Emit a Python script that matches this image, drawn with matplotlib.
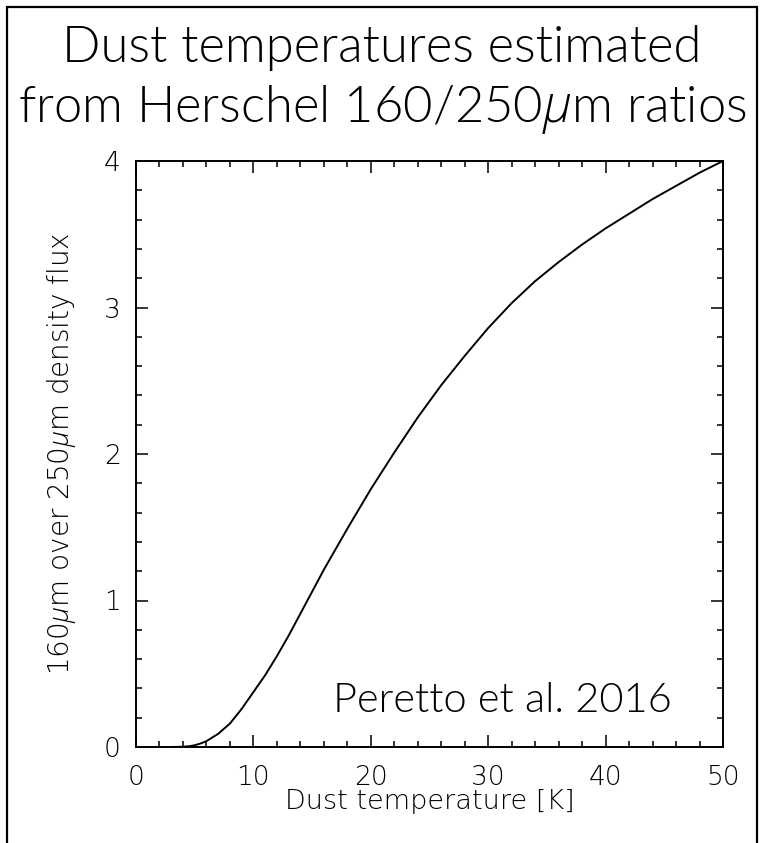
import matplotlib
matplotlib.use("Agg")
import matplotlib.pyplot as plt
from matplotlib.patches import Rectangle
from matplotlib.ticker import MultipleLocator

plt.rcParams["mathtext.fontset"] = "custom"
plt.rcParams["mathtext.it"] = "Open Sans:style=italic:weight=light"
plt.rcParams["mathtext.rm"] = "Open Sans:weight=light"

# values
temp = [2, 3, 4, 4.5, 5, 5.5, 6, 7, 8, 9, 10, 11, 12, 13, 14, 15, 16, 18, 20,
        22, 24, 26, 28, 30, 32, 34, 36, 38, 40, 42, 44, 46, 48, 50]
ratio = [0.0, 0.0, 0.002, 0.005, 0.012, 0.024, 0.04, 0.09, 0.16, 0.26, 0.375,
         0.49, 0.62, 0.76, 0.91, 1.06, 1.21, 1.49, 1.76, 2.01, 2.25, 2.47,
         2.67, 2.86, 3.03, 3.18, 3.31, 3.43, 3.54, 3.64, 3.74, 3.83, 3.92, 4.0]

title_lines = ["Dust temperatures estimated", r"from Herschel 160/250$\mu$m ratios"]
credit = "Peretto et al. 2016"
xlab = "Dust temperature [K]"
ylab = r"160$\mu$m over 250$\mu$m density flux"

W, H = 764, 843
fig = plt.figure(figsize=(W / 100, H / 100), dpi=100)

# frame round the picture (no bottom edge)
fig.patches.append(Rectangle((7 / W, -0.05), 750 / W, 1.05 - 7 / H,
                             transform=fig.transFigure, fill=False,
                             edgecolor="black", linewidth=1.6))

ax = fig.add_axes([136 / W, 1 - 747 / H, 587 / W, 586 / H])
ax.plot(temp, ratio, color="black", linewidth=1.4)
ax.set_xlim(0, 50)
ax.set_ylim(0, 4)
ax.xaxis.set_major_locator(MultipleLocator(10))
ax.xaxis.set_minor_locator(MultipleLocator(2))
ax.yaxis.set_major_locator(MultipleLocator(1))
ax.yaxis.set_minor_locator(MultipleLocator(0.2))
ax.tick_params(which="both", direction="in", top=True, right=True, width=1.1)
ax.tick_params(which="major", length=8.5)
ax.tick_params(which="minor", length=4.3)
ax.tick_params(axis="x", pad=13, labelsize=19)
ax.tick_params(axis="y", pad=11, labelsize=19)
for lbl in ax.get_xticklabels() + ax.get_yticklabels():
    lbl.set_fontweight("light")
    lbl.set_color("black")
for s in ax.spines.values():
    s.set_linewidth(1.4)

fig.text(430 / W, 1 - 789 / H, xlab, ha="center", va="top", fontsize=19.5,
         weight="light", color="black")
fig.text(62 / W, 1 - 454 / H, ylab, ha="center", va="center", rotation=90,
         fontsize=20, weight="light", color="black")

fig.text(382 / W, 1 - 62 / H, title_lines[0], ha="center", va="baseline",
         fontsize=36.5, family="Lato", weight=300)
fig.text(382 / W, 1 - 122 / H, title_lines[1], ha="center", va="baseline",
         fontsize=36.5, family="Lato", weight=300)

ax.text(502 / W, 1 - 712 / H, credit, transform=fig.transFigure, ha="center",
        va="baseline", fontsize=30, family="Lato", weight=300)

fig.savefig("out.png", dpi=100)
